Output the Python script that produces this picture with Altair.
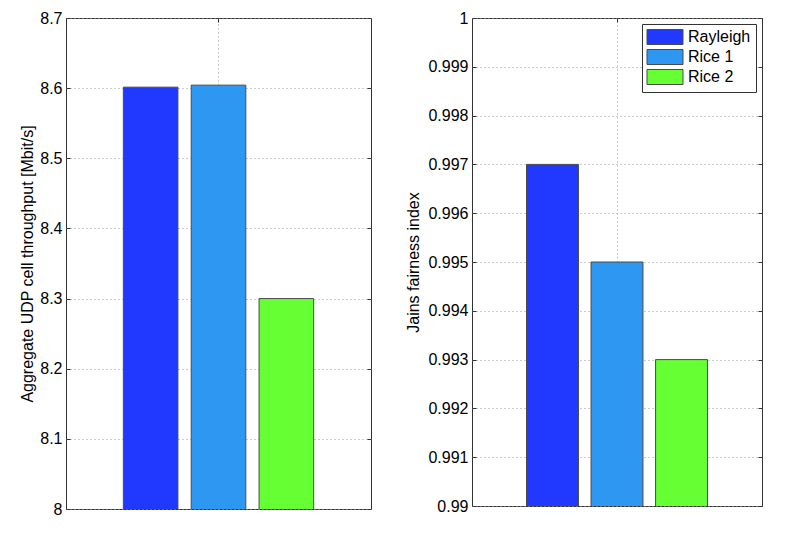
import altair as alt
import pandas as pd

# ---- data ----
categories = ["Rayleigh", "Rice 1", "Rice 2"]
throughput = [8.6014, 8.6043, 8.300]
fairness = [0.997, 0.995, 0.993]
colors = ["#2139ff", "#2d97f2", "#66ff33"]
throughput_ticks = [8.0, 8.1, 8.2, 8.3, 8.4, 8.5, 8.6, 8.7]
fairness_ticks = [0.990, 0.991, 0.992, 0.993, 0.994, 0.995, 0.996, 0.997, 0.998, 0.999, 1.0]
throughput_title = "Aggregate UDP cell throughput [Mbit/s]"
fairness_title = "Jains fairness index"

FONT = "Liberation Sans"
AXIS_COLOR = "#333333"
GRID_COLOR = "#9a9a9a"
EDGE_COLOR = "#4a4a4a"


def panel(values, ticks, title, width, height, title_pad, legend):
    df = pd.DataFrame({"scheme": categories, "value": values})
    xscale = alt.Scale(domain=categories, paddingInner=0.1955, paddingOuter=0.845)
    xaxis = alt.Axis(
        orient="top", values=["Rice 1"], bandPosition=0.5, labels=False, title=None,
        domain=False, ticks=True, tickSize=4, offset=-4, tickColor=AXIS_COLOR,
        grid=True, gridColor=GRID_COLOR, gridDash=[1, 3], gridWidth=1,
    )
    x = alt.X("scheme:N", scale=xscale, axis=xaxis, sort=categories)
    yscale = alt.Scale(domain=[ticks[0], ticks[-1]], nice=False, zero=False)
    bars = alt.Chart(df).mark_bar(stroke=EDGE_COLOR, strokeWidth=1, clip=True).encode(
        x=x,
        y=alt.Y(
            "value:Q", scale=yscale,
            axis=alt.Axis(
                orient="left", values=ticks, format="~g", title=title,
                titlePadding=title_pad, domain=False, ticks=True, tickSize=4,
                offset=-4, labelPadding=4, tickColor=AXIS_COLOR,
                grid=True, gridColor=GRID_COLOR, gridDash=[1, 3], gridWidth=1,
            ),
        ),
        color=alt.Color("scheme:N", scale=alt.Scale(domain=categories, range=colors),
                        legend=legend),
    )
    right = alt.Chart(df).mark_bar(opacity=0).encode(
        x=x,
        y=alt.Y(
            "value:Q", scale=yscale,
            axis=alt.Axis(
                orient="right", values=ticks, labels=False, title=None, domain=False,
                ticks=True, tickSize=4, offset=-4, tickColor=AXIS_COLOR, grid=False,
            ),
        ),
    )
    return alt.layer(bars, right).resolve_axis(y="independent").properties(
        width=width, height=height
    )


legend = alt.Legend(
    title=None, orient="top-right", offset=6, padding=5,
    strokeColor=AXIS_COLOR, fillColor="white", cornerRadius=0,
    symbolType="M-2.4,-1H2.4V1H-2.4Z", symbolSize=225, symbolOffset=10,
    symbolStrokeColor=EDGE_COLOR, symbolStrokeWidth=1, symbolOpacity=1,
    labelOffset=15, labelFont=FONT, labelFontSize=16, labelColor="black",
    rowPadding=0,
)

left = panel(throughput, throughput_ticks, throughput_title, 305, 491, 4, None)
rightp = panel(fairness, fairness_ticks, fairness_title, 290, 488, 6, legend)

chart = (
    alt.hconcat(left, rightp, spacing=33)
    .resolve_scale(color="independent")
    .resolve_legend(color="independent")
    .properties(padding={"left": 11, "top": 1, "right": 0, "bottom": 0})
    .configure(background="white")
    .configure_view(stroke=AXIS_COLOR, strokeWidth=1)
    .configure_axis(
        labelFont=FONT, titleFont=FONT, labelFontSize=16, titleFontSize=16,
        titleFontWeight="normal", labelColor="black", titleColor="black",
    )
)

chart.save("out.html", embed_options={"renderer": "svg", "actions": False})
